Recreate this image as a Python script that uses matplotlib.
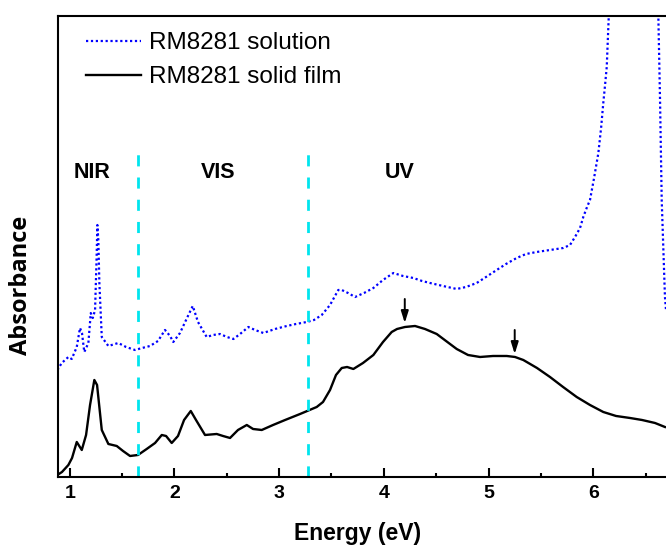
import matplotlib
matplotlib.use("Agg")
import matplotlib.pyplot as plt

# energy (eV) and absorbance (arb. units)
film_e = [0.882, 0.926, 0.987, 1.022, 1.067, 1.115, 1.156, 1.194, 1.235, 1.261,
          1.306, 1.369, 1.449, 1.509, 1.576, 1.652, 1.735, 1.815, 1.879, 1.920,
          1.974, 2.034, 2.092, 2.156, 2.206, 2.292, 2.404, 2.464, 2.531, 2.607,
          2.691, 2.751, 2.834, 2.942, 3.057, 3.200, 3.359, 3.419, 3.486, 3.543,
          3.598, 3.649, 3.709, 3.801, 3.900, 3.992, 4.075, 4.126, 4.202, 4.298,
          4.393, 4.505, 4.594, 4.696, 4.804, 4.919, 5.043, 5.174, 5.253, 5.332,
          5.463, 5.587, 5.712, 5.842, 5.969, 6.096, 6.218, 6.351, 6.466, 6.590,
          6.685]
film_a = [0.02, 0.05, 0.12, 0.19, 0.35, 0.27, 0.42, 0.72, 0.97, 0.92,
          0.47, 0.33, 0.31, 0.26, 0.21, 0.22, 0.28, 0.34, 0.42, 0.41,
          0.34, 0.41, 0.57, 0.66, 0.57, 0.42, 0.43, 0.41, 0.39, 0.47,
          0.52, 0.48, 0.47, 0.52, 0.57, 0.63, 0.70, 0.75, 0.87, 1.02,
          1.09, 1.10, 1.08, 1.14, 1.22, 1.35, 1.45, 1.48, 1.50, 1.51,
          1.48, 1.43, 1.36, 1.28, 1.22, 1.20, 1.21, 1.21, 1.20, 1.17,
          1.09, 1.00, 0.90, 0.80, 0.72, 0.65, 0.61, 0.59, 0.57, 0.54,
          0.50]

sol_e = [0.882, 0.924, 0.987, 1.019, 1.067, 1.098, 1.117, 1.139, 1.178, 1.201,
         1.220, 1.242, 1.256, 1.264, 1.273, 1.283, 1.306, 1.369, 1.464, 1.538,
         1.623, 1.691, 1.767, 1.843, 1.910, 1.958, 1.989, 2.053, 2.120, 2.175,
         2.225, 2.308, 2.369, 2.435, 2.502, 2.563, 2.627, 2.706, 2.770, 2.849,
         2.961, 3.073, 3.161, 3.264, 3.333, 3.407, 3.486, 3.565, 3.598, 3.658,
         3.725, 3.811, 3.900, 3.992, 4.091, 4.183, 4.282, 4.365, 4.441, 4.565,
         4.696, 4.785, 4.887, 4.976, 5.078, 5.167, 5.269, 5.358, 5.460, 5.587,
         5.714, 5.778, 5.826, 5.874, 5.905, 5.941, 5.969, 6.008, 6.049, 6.075,
         6.096, 6.113, 6.129, 6.148, 6.399, 6.622, 6.638, 6.654, 6.669, 6.685,
         6.695]
sol_a = [1.07, 1.14, 1.20, 1.18, 1.30, 1.49, 1.44, 1.25, 1.34, 1.64,
         1.59, 1.67, 2.17, 2.52, 2.37, 1.94, 1.40, 1.31, 1.34, 1.30,
         1.27, 1.29, 1.31, 1.36, 1.47, 1.41, 1.35, 1.44, 1.59, 1.71,
         1.55, 1.40, 1.42, 1.43, 1.40, 1.38, 1.43, 1.50, 1.47, 1.44,
         1.48, 1.51, 1.53, 1.55, 1.57, 1.62, 1.72, 1.87, 1.87, 1.84,
         1.80, 1.84, 1.89, 1.97, 2.04, 2.01, 1.99, 1.96, 1.94, 1.91,
         1.88, 1.90, 1.94, 2.00, 2.07, 2.13, 2.19, 2.23, 2.25, 2.27,
         2.29, 2.32, 2.40, 2.49, 2.60, 2.70, 2.77, 2.99, 3.24, 3.49,
         3.74, 3.92, 4.10, 4.60, 24.77, 4.60, 3.77, 2.77, 2.30, 1.80,
         1.67]

region_bounds = [1.65, 3.28]
region_names = ["NIR", "VIS", "UV"]
region_x = [1.21, 2.42, 4.15]
arrow_e = [4.20, 5.25]
arrow_top = [1.78, 1.47]
arrow_tip = [1.54, 1.23]

fig = plt.figure(figsize=(6.66, 5.46), dpi=100)
ax = fig.add_axes([0.0871, 0.1264, 0.9129, 0.8443])

ax.plot(sol_e, sol_a, color="#0000ff", lw=1.6, linestyle=(0, (1, 1.2)),
        label="RM8281 solution")
ax.plot(film_e, film_a, color="black", lw=1.7, label="RM8281 solid film")

for xb in region_bounds:
    ax.axvline(xb, ymin=0, ymax=0.714, color="#00e5ee", lw=2,
               linestyle=(0, (4, 4)))

for name, xt in zip(region_names, region_x):
    ax.text(xt, 3.045, name, ha="center", va="center", fontsize=15.5,
            fontweight="bold", family="Liberation Sans")

for xa, yt, yh in zip(arrow_e, arrow_top, arrow_tip):
    ax.annotate("", xy=(xa, yh), xytext=(xa, yt),
                arrowprops=dict(arrowstyle="-|>,head_length=0.7,head_width=0.22",
                                color="black", lw=1.4, shrinkA=0, shrinkB=0))

ax.set_xlim(0.888, 6.695)
ax.set_ylim(0, 4.61)
ax.set_yticks([])
ax.set_xticks([1, 2, 3, 4, 5, 6])
ax.set_xticks([1.5, 2.5, 3.5, 4.5, 5.5, 6.5], minor=True)
ax.tick_params(axis="x", which="major", direction="in", length=6.5, width=1.5,
               pad=6, labelsize=14)
ax.tick_params(axis="x", which="minor", direction="in", length=3, width=1.5)
for lab in ax.get_xticklabels():
    lab.set_fontweight("bold")
    lab.set_family("Liberation Sans")

for side in ["left", "bottom", "top"]:
    ax.spines[side].set_linewidth(1.5)
ax.spines["right"].set_visible(False)

ax.set_xlabel("Energy (eV)", fontsize=16.5, fontweight="bold",
              family="Liberation Sans")
ax.xaxis.set_label_coords(0.492, -0.098)
ax.set_ylabel("Absorbance", fontsize=17, fontweight="bold", family="Open Sans")
ax.yaxis.set_label_coords(-0.041, 0.416)

leg = ax.legend(loc="upper left", bbox_to_anchor=(0.046, 0.965), frameon=False,
                borderpad=0, borderaxespad=0, handlelength=2.25,
                handletextpad=0.35, labelspacing=0.5,
                prop={"family": "Liberation Sans", "size": 17.5})

fig.savefig("out.png", dpi=100)
